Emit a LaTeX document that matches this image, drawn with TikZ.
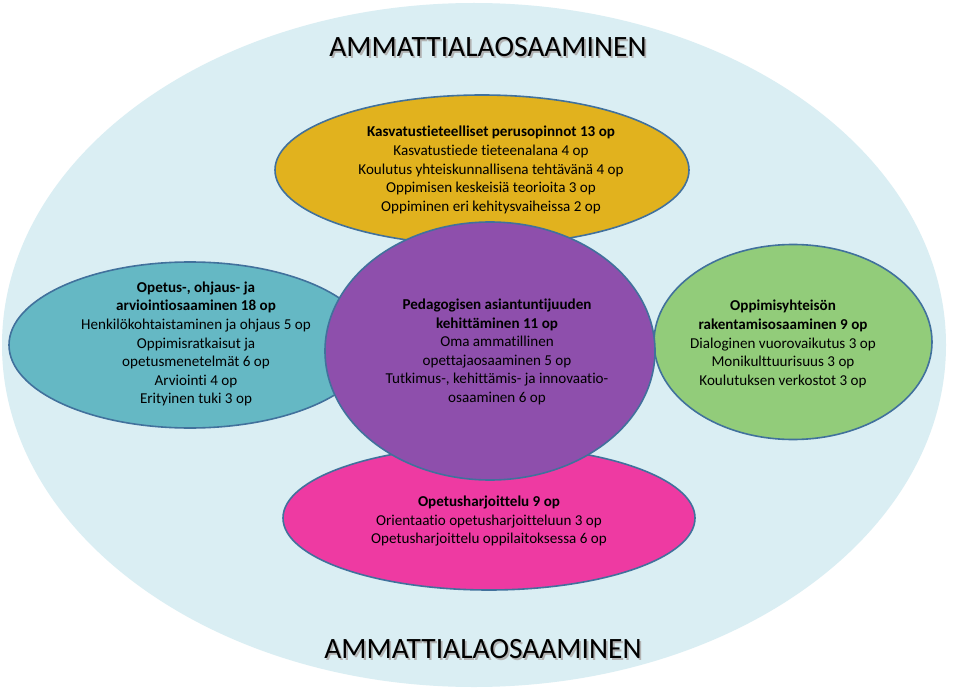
\documentclass[tikz,border=0pt]{standalone}
\usepackage{fontspec}
\setmainfont{Carlito}[Ligatures=NoCommon]
\usetikzlibrary{shapes.geometric}
\definecolor{bgblue}{RGB}{218,238,243}
\definecolor{cgold}{RGB}{225,178,30}
\definecolor{cteal}{RGB}{101,184,196}
\definecolor{cgreen}{RGB}{146,204,122}
\definecolor{cpurple}{RGB}{142,79,172}
\definecolor{cpink}{RGB}{238,58,162}
\definecolor{cedge}{RGB}{65,113,156}
\newcommand{\shadowed}[1]{\makebox[0pt][l]{\hspace{1.8pt}\raisebox{-1.8pt}{\textcolor{black!30}{#1}}}#1}
\tikzset{
  blob/.style={ellipse, draw=cedge, line width=1.6pt, inner sep=0pt},
  body/.style={align=center, font=\fontsize{15.1}{18.6}\selectfont, text=black, inner sep=0pt},
  title/.style={font=\fontsize{29.5}{34}\selectfont, text=black, inner sep=0pt}
}
\begin{document}
\begin{tikzpicture}[x=1pt,y=-1pt]
\useasboundingbox (0,0) rectangle (953,690);
\fill[white] (0,0) rectangle (953,690);
\node[ellipse, fill=bgblue, minimum width=944pt, minimum height=684pt, inner sep=0pt] (bg) at (474,345) {};
% titles
\node[title] (t1) at (488,48) {\shadowed{AMMATTIALAOSAAMINEN}};
\node[title] (t2) at (483,650) {\shadowed{AMMATTIALAOSAAMINEN}};
% ellipses
\node[blob, fill=cteal, minimum width=362pt, minimum height=166pt] (left) at (190,345) {};
\node[blob, fill=cgreen, minimum width=278pt, minimum height=195pt] (right) at (793,342) {};
\node[blob, fill=cgold, minimum width=414pt, minimum height=150pt] (top) at (482,170) {};
\node[blob, fill=cpink, minimum width=412pt, minimum height=144pt] (bottom) at (489,518) {};
\node[blob, fill=cpurple, minimum width=330pt, minimum height=258pt] (center) at (490,351) {};
% texts
\node[body] (toptext) at (491,170) {\textbf{Kasvatustieteelliset perusopinnot 13 op}\\Kasvatustiede tieteenalana 4 op\\Koulutus yhteiskunnallisena tehtävänä 4 op\\Oppimisen keskeisiä teorioita 3 op\\Oppiminen eri kehitysvaiheissa 2 op};
\node[body] (lefttext) at (196,344) {\textbf{Opetus-, ohjaus- ja}\\\textbf{arviointiosaaminen 18 op}\\Henkilökohtaistaminen ja ohjaus 5 op\\Oppimisratkaisut ja\\opetusmenetelmät 6 op\\Arviointi 4 op\\Erityinen tuki 3 op};
\node[body] (righttext) at (783,344) {\textbf{Oppimisyhteisön}\\\textbf{rakentamisosaaminen 9 op}\\Dialoginen vuorovaikutus 3 op\\Monikulttuurisuus 3 op\\Koulutuksen verkostot 3 op};
\node[body] (centertext) at (497,352) {\textbf{Pedagogisen asiantuntijuuden}\\\textbf{kehittäminen 11 op}\\Oma ammatillinen\\opettajaosaaminen 5 op\\Tutkimus-, kehittämis- ja innovaatio-\\osaaminen 6 op};
\node[body] (bottomtext) at (489,521) {\textbf{Opetusharjoittelu 9 op}\\Orientaatio opetusharjoitteluun 3 op\\Opetusharjoittelu oppilaitoksessa 6 op};
\end{tikzpicture}
\end{document}
